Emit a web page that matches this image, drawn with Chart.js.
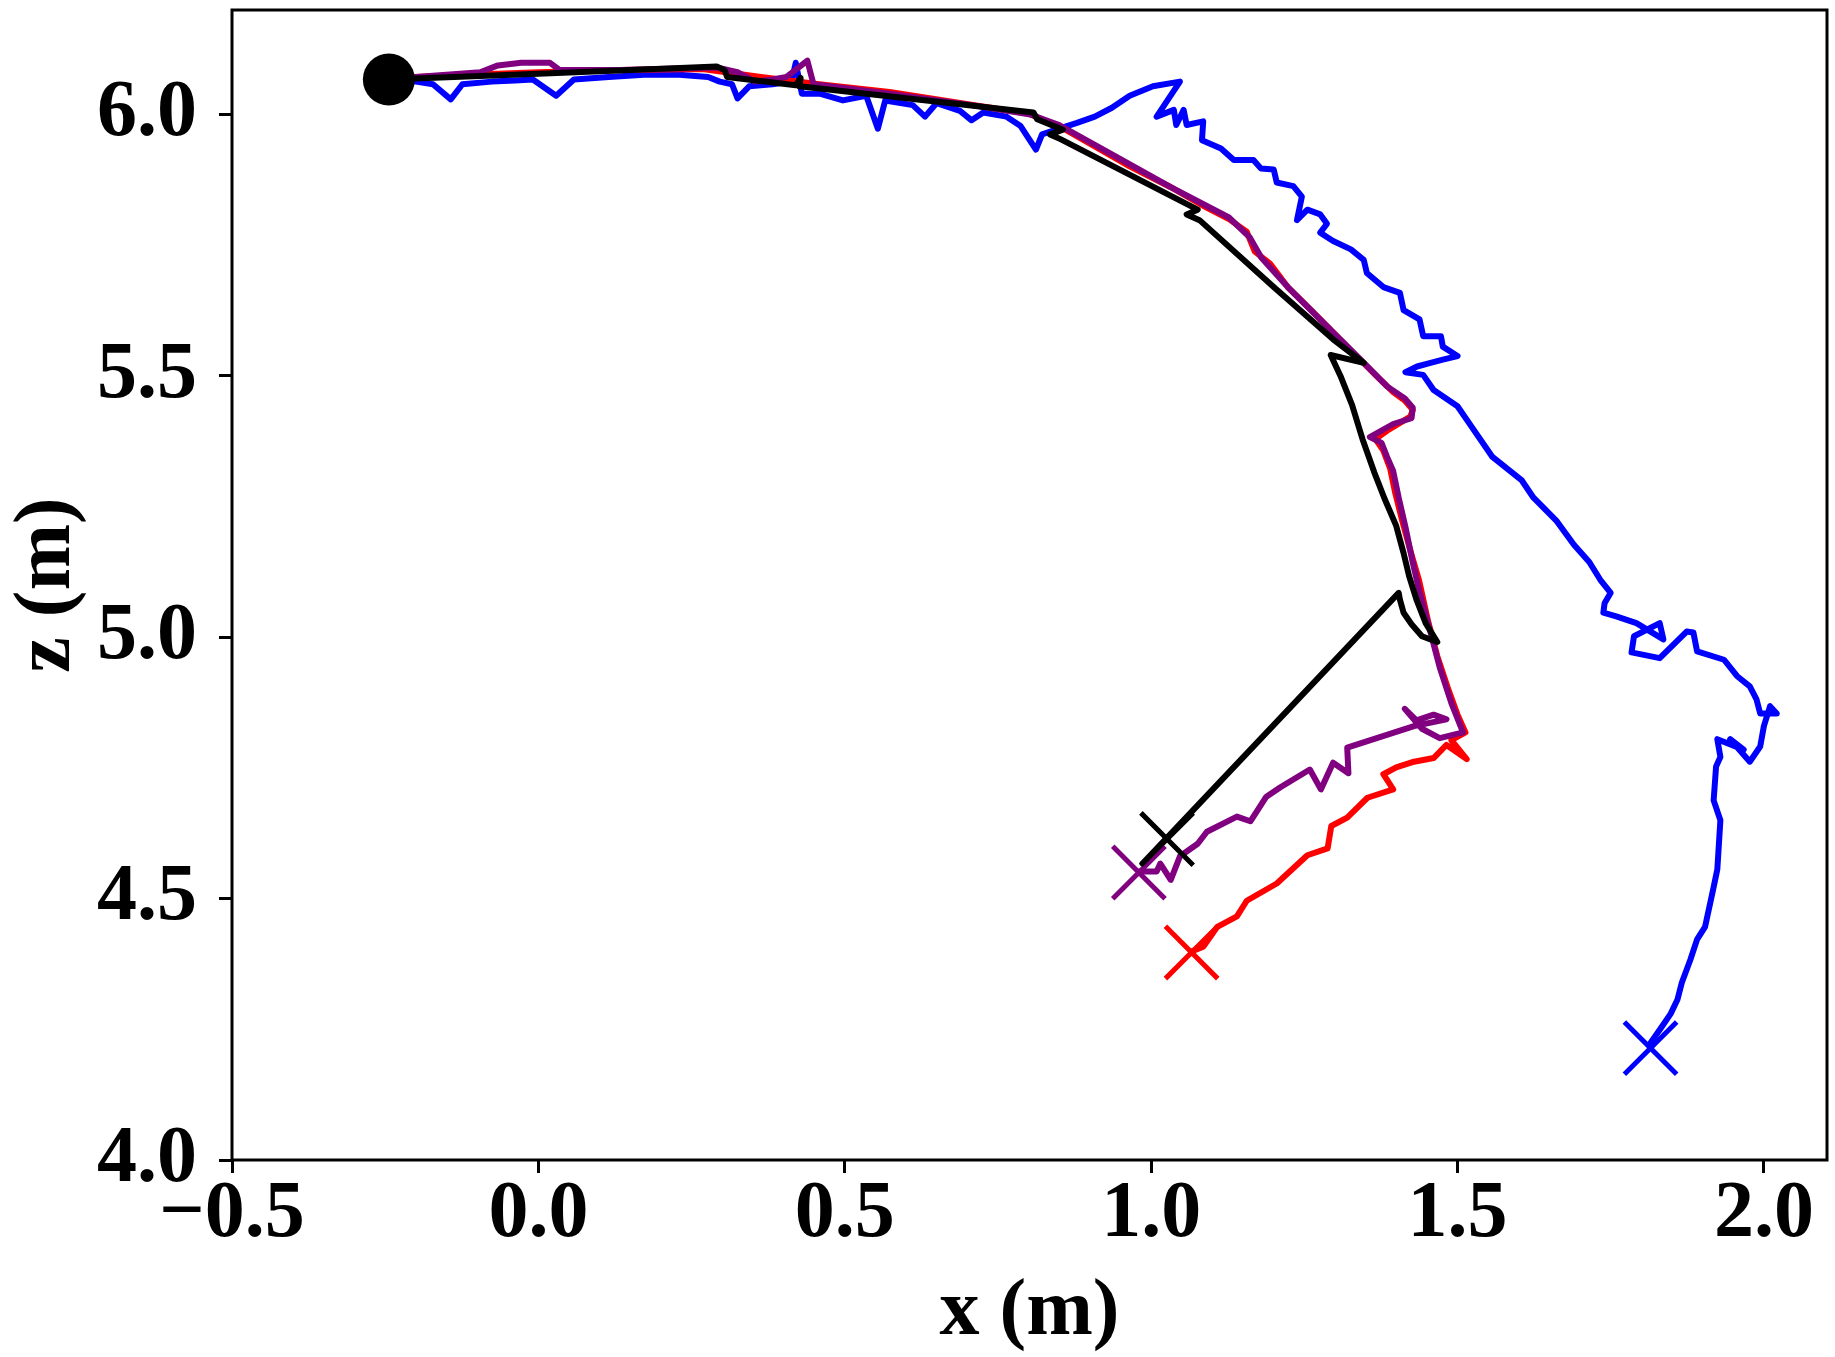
<!DOCTYPE html>
<html>
<head>
<meta charset="utf-8">
<script src="https://cdn.jsdelivr.net/npm/chart.js@4"></script>
<style>
html,body{margin:0;padding:0;background:#fff;}
canvas{display:block;}
</style>
</head>
<body>
<canvas id="c" width="1835" height="1357"></canvas>
<script>
// ---- data (metres) ----
const xTickValues = [-0.5, 0.0, 0.5, 1.0, 1.5, 2.0];
const yTickValues = [4.0, 4.5, 5.0, 5.5, 6.0];

const startPoint = [[-0.244, 6.067]];
const blackEnd  = [[1.026, 4.614]];
const purpleEnd = [[0.980, 4.550]];
const redEnd    = [[1.066, 4.397]];
const blueEnd   = [[1.815, 4.214]];

const blackPath = [
[-0.244,6.067],[0.000,6.078],[0.291,6.092],[0.304,6.085],[0.308,6.072],[0.420,6.056],[0.428,6.070],[0.426,6.054],
[0.808,6.004],[0.814,5.991],[0.856,5.971],[0.835,5.962],[0.852,5.953],[1.076,5.818],[1.058,5.809],[1.079,5.798],
[1.200,5.670],[1.297,5.570],[1.347,5.525],[1.293,5.540],[1.309,5.500],[1.328,5.444],[1.345,5.379],[1.364,5.316],
[1.381,5.265],[1.400,5.213],[1.412,5.161],[1.421,5.117],[1.433,5.072],[1.448,5.027],[1.467,4.991],[1.442,5.002],
[1.425,5.025],[1.412,5.047],[1.406,5.072],[1.404,5.085],[0.986,4.567]
];

const redPath = [
[-0.200,6.072],[-0.114,6.076],[0.000,6.081],[0.134,6.085],[0.268,6.087],[0.363,6.072],[0.458,6.058],[0.573,6.043],
[0.688,6.022],[0.799,6.002],[0.850,5.978],[0.908,5.939],[0.965,5.901],[1.032,5.861],[1.089,5.823],[1.127,5.800],
[1.156,5.776],[1.169,5.738],[1.194,5.715],[1.223,5.670],[1.261,5.626],[1.299,5.581],[1.337,5.536],[1.366,5.502],
[1.395,5.469],[1.414,5.453],[1.427,5.435],[1.423,5.422],[1.385,5.395],[1.366,5.379],[1.379,5.357],[1.390,5.323],
[1.398,5.278],[1.410,5.222],[1.423,5.166],[1.437,5.110],[1.452,5.031],[1.467,4.964],[1.486,4.897],[1.500,4.852],
[1.513,4.818],[1.490,4.803],[1.515,4.767],[1.482,4.794],[1.461,4.769],[1.429,4.762],[1.400,4.751],[1.379,4.738],
[1.395,4.709],[1.353,4.693],[1.320,4.655],[1.294,4.639],[1.288,4.596],[1.255,4.583],[1.205,4.529],[1.156,4.496],
[1.140,4.466],[1.108,4.446],[1.085,4.408],[1.066,4.399]
];

const purplePath = [
[-0.200,6.072],[-0.095,6.081],[-0.066,6.094],[-0.028,6.099],[0.019,6.099],[0.035,6.085],[0.134,6.085],[0.291,6.090],
[0.325,6.081],[0.354,6.063],[0.382,6.067],[0.405,6.072],[0.439,6.103],[0.449,6.058],[0.573,6.040],[0.707,6.018],
[0.803,6.000],[0.850,5.980],[0.936,5.924],[1.032,5.861],[1.127,5.803],[1.161,5.765],[1.180,5.726],[1.223,5.670],
[1.299,5.581],[1.347,5.525],[1.385,5.480],[1.414,5.457],[1.427,5.439],[1.425,5.419],[1.395,5.408],[1.357,5.383],
[1.376,5.372],[1.385,5.345],[1.395,5.318],[1.404,5.267],[1.415,5.211],[1.427,5.143],[1.438,5.087],[1.456,5.009],
[1.471,4.942],[1.490,4.874],[1.509,4.818],[1.471,4.807],[1.442,4.825],[1.414,4.863],[1.433,4.841],[1.461,4.852],
[1.482,4.843],[1.429,4.830],[1.320,4.789],[1.322,4.740],[1.297,4.760],[1.277,4.709],[1.259,4.747],[1.211,4.713],
[1.188,4.695],[1.162,4.648],[1.140,4.657],[1.091,4.628],[1.076,4.605],[1.047,4.581],[1.032,4.536],[1.015,4.567],
[1.009,4.552],[0.980,4.552]
];

const bluePath = [
[-0.200,6.063],[-0.172,6.058],[-0.143,6.029],[-0.124,6.058],[-0.076,6.063],[-0.038,6.065],[-0.009,6.067],[0.029,6.036],
[0.058,6.067],[0.115,6.072],[0.172,6.076],[0.230,6.076],[0.277,6.072],[0.296,6.063],[0.316,6.058],[0.325,6.031],
[0.344,6.054],[0.382,6.058],[0.413,6.063],[0.420,6.099],[0.430,6.040],[0.459,6.040],[0.497,6.027],[0.535,6.036],
[0.554,5.973],[0.566,6.027],[0.611,6.018],[0.631,5.996],[0.650,6.022],[0.688,6.007],[0.707,5.989],[0.726,6.004],
[0.764,5.996],[0.787,5.978],[0.812,5.933],[0.822,5.962],[0.850,5.973],[0.879,5.984],[0.908,5.996],[0.936,6.013],
[0.965,6.036],[1.003,6.054],[1.047,6.063],[1.009,5.996],[1.037,6.009],[1.041,5.980],[1.053,6.009],[1.058,5.980],
[1.085,5.987],[1.083,5.951],[1.114,5.935],[1.135,5.913],[1.167,5.913],[1.179,5.897],[1.200,5.895],[1.205,5.870],
[1.232,5.863],[1.246,5.843],[1.238,5.798],[1.255,5.818],[1.276,5.809],[1.287,5.791],[1.276,5.774],[1.297,5.758],
[1.326,5.742],[1.347,5.722],[1.352,5.697],[1.379,5.670],[1.406,5.659],[1.412,5.626],[1.438,5.608],[1.444,5.576],
[1.473,5.576],[1.476,5.556],[1.500,5.538],[1.476,5.531],[1.456,5.525],[1.434,5.518],[1.415,5.507],[1.444,5.502],
[1.461,5.473],[1.500,5.442],[1.524,5.401],[1.557,5.345],[1.605,5.300],[1.624,5.267],[1.662,5.222],[1.690,5.177],
[1.715,5.144],[1.733,5.110],[1.750,5.085],[1.740,5.065],[1.738,5.047],[1.759,5.040],[1.792,5.027],[1.836,4.996],
[1.830,5.027],[1.788,5.002],[1.784,4.971],[1.830,4.960],[1.874,5.011],[1.885,5.009],[1.891,4.973],[1.935,4.957],
[1.956,4.926],[1.977,4.906],[1.988,4.881],[1.994,4.854],[2.021,4.854],[2.010,4.868],[2.000,4.830],[1.994,4.791],
[1.977,4.762],[1.945,4.805],[1.967,4.785],[1.924,4.805],[1.929,4.771],[1.922,4.753],[1.918,4.688],[1.929,4.650],
[1.924,4.556],[1.918,4.522],[1.904,4.446],[1.891,4.422],[1.880,4.383],[1.866,4.339],[1.859,4.307],[1.848,4.280],
[1.834,4.256],[1.815,4.224]
];

const X_MIN = -0.5, X_MAX = 2.103, Y_MIN = 4.0, Y_MAX = 6.2;

// ---- helpers ----
const toPts = arr => arr.map(p => ({x: p[0], y: p[1]}));
const FONT = '"Liberation Serif", "Times New Roman", serif';
const fmt = v => (v < 0 ? '\u2212' : '') + Math.abs(v).toFixed(1);

function pathDS(data, color) {
  return {data: toPts(data), showLine: true, borderColor: color, backgroundColor: color,
    borderWidth: 6, pointRadius: 0, pointHoverRadius: 0, tension: 0,
    borderJoinStyle: 'round', borderCapStyle: 'round'};
}
function crossDS(data, color) {
  return {data: toPts(data), showLine: false, pointStyle: 'crossRot', pointRadius: 37,
    pointBorderColor: color, pointBorderWidth: 5, borderColor: color, backgroundColor: color};
}

const framePlugin = {
  id: 'frame',
  afterDraw(chart) {
    const a = chart.chartArea, ctx = chart.ctx;
    ctx.save();
    ctx.strokeStyle = '#000';
    ctx.lineWidth = 3;
    ctx.strokeRect(a.left, a.top, a.right - a.left, a.bottom - a.top);
    ctx.restore();
  }
};

function zeroPad(s) { s.paddingTop = 0; s.paddingBottom = 0; s.paddingLeft = 0; s.paddingRight = 0; }

new Chart(document.getElementById('c'), {
  type: 'scatter',
  data: {
    datasets: [
      {data: toPts(startPoint), showLine: false, pointStyle: 'circle', pointRadius: 26,
       backgroundColor: '#000', borderColor: '#000', pointBorderWidth: 0},
      crossDS(blackEnd, '#000000'),
      crossDS(purpleEnd, '#800080'),
      crossDS(redEnd, '#ff0000'),
      crossDS(blueEnd, '#0000ff'),
      pathDS(blackPath, '#000000'),
      pathDS(purplePath, '#800080'),
      pathDS(redPath, '#ff0000'),
      pathDS(bluePath, '#0000ff')
    ]
  },
  options: {
    responsive: false,
    animation: false,
    devicePixelRatio: 1,
    layout: {autoPadding: false, padding: {top: 10, right: 8, left: 0, bottom: 0}},
    plugins: {legend: {display: false}, tooltip: {enabled: false}},
    events: [],
    scales: {
      x: {
        type: 'linear', min: X_MIN, max: X_MAX,
        afterBuildTicks: s => { s.ticks = xTickValues.map(v => ({value: v})); },
        afterFit: s => { s.height = 197; zeroPad(s); },
        border: {display: false},
        grid: {display: true, drawOnChartArea: false, drawTicks: true, tickLength: 13, tickWidth: 3, tickColor: '#000'},
        ticks: {color: '#000', padding: 2, maxRotation: 0, autoSkip: false,
          font: {family: FONT, size: 80, weight: 'bold', lineHeight: 1}, callback: v => fmt(v)},
        title: {display: true, text: 'x (m)', color: '#000', padding: 0,
          font: {family: FONT, size: 80, weight: 'bold', lineHeight: 1.1}}
      },
      y: {
        type: 'linear', min: Y_MIN, max: Y_MAX,
        afterBuildTicks: s => { s.ticks = yTickValues.map(v => ({value: v})); },
        afterFit: s => { s.width = 232; zeroPad(s); },
        border: {display: false},
        grid: {display: true, drawOnChartArea: false, drawTicks: true, tickLength: 13, tickWidth: 3, tickColor: '#000'},
        ticks: {color: '#000', padding: 22, autoSkip: false,
          font: {family: FONT, size: 80, weight: 'bold', lineHeight: 1}, callback: v => fmt(v)},
        title: {display: true, text: 'z (m)', color: '#000', padding: 0,
          font: {family: FONT, size: 80, weight: 'bold', lineHeight: 1.2}}
      }
    }
  },
  plugins: [framePlugin]
});
</script>
</body>
</html>
